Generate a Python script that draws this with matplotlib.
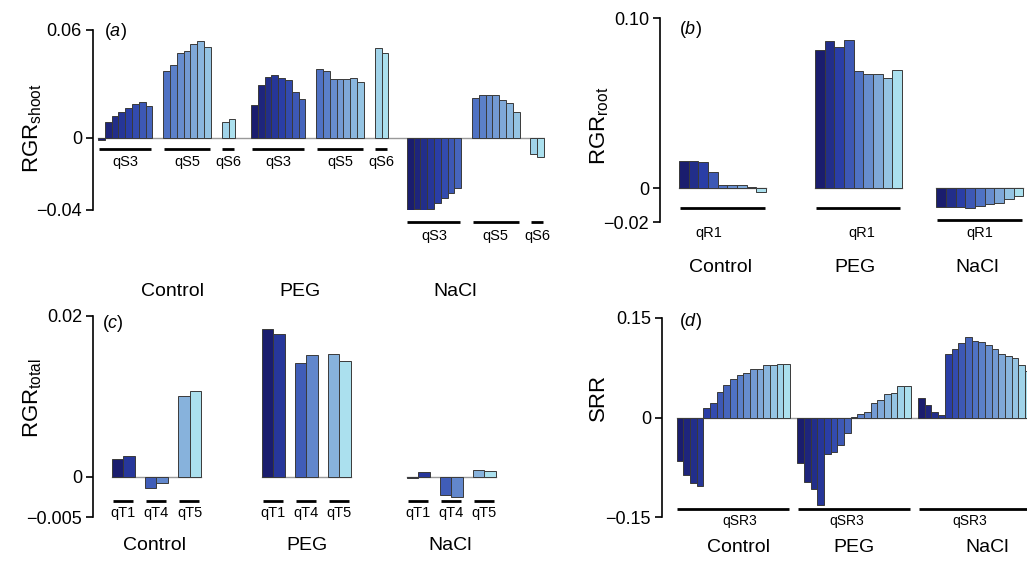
import numpy as np
import matplotlib
matplotlib.use("Agg")
import matplotlib.pyplot as plt
from matplotlib.colors import LinearSegmentedColormap
from matplotlib.transforms import blended_transform_factory

plt.rcParams['font.family'] = ['Liberation Sans', 'DejaVu Sans']
plt.rcParams['mathtext.fontset'] = 'custom'
plt.rcParams['mathtext.rm'] = 'Liberation Sans'
plt.rcParams['mathtext.it'] = 'Liberation Sans:italic'

W, H = 1027, 565

treatments = ['Control', 'PEG', 'NaCl']

# (a) RGR shoot -- loci qS3, qS5, qS6
shoot_loci = ['qS3', 'qS5', 'qS6']
shoot_control = [[-0.0013, 0.0088, 0.0122, 0.0144, 0.0165, 0.0190, 0.0200, 0.0180],
                 [0.0374, 0.0408, 0.0473, 0.0481, 0.0524, 0.0537, 0.0505],
                 [0.0088, 0.0107]]
shoot_peg = [[0.0183, 0.0295, 0.0340, 0.0350, 0.0331, 0.0324, 0.0256, 0.0219],
             [0.0383, 0.0370, 0.0327, 0.0327, 0.0327, 0.0333, 0.0312],
             [0.0499, 0.0473]]
shoot_nacl = [[-0.0411, -0.0393, -0.0400, -0.0393, -0.0363, -0.0331, -0.0303, -0.0280],
              [0.0220, 0.0240, 0.0240, 0.0240, 0.0211, 0.0192, 0.0142],
              [-0.0090, -0.0105]]

# (b) RGR root -- locus qR1
root_loci = ['qR1']
root_control = [[0.0161, 0.0161, 0.0155, 0.0096, 0.0020, 0.0020, 0.0020, 0.0005, -0.0025]]
root_peg = [[0.0814, 0.0867, 0.0827, 0.0873, 0.0690, 0.0670, 0.0670, 0.0647, 0.0696]]
root_nacl = [[-0.0110, -0.0110, -0.0110, -0.0120, -0.0104, -0.0094, -0.0088, -0.0065, -0.0049]]

# (c) RGR total -- loci qT1, qT4, qT5
total_loci = ['qT1', 'qT4', 'qT5']
total_control = [[0.0022, 0.0026], [-0.00145, -0.00075], [0.0100, 0.0107]]
total_peg = [[0.0184, 0.0177], [0.0142, 0.0152], [0.0153, 0.0144]]
total_nacl = [[-0.0001, 0.0006], [-0.0023, -0.0025], [0.0009, 0.0007]]

# (d) SRR -- locus qSR3
srr_loci = ['qSR3']
srr_control = [[-0.0650, -0.0865, -0.0980, -0.1030, 0.0145, 0.0225, 0.0385, 0.0495, 0.0575,
                0.0635, 0.0670, 0.0735, 0.0735, 0.0785, 0.0785, 0.0810, 0.0810]]
srr_peg = [[-0.0690, -0.0965, -0.1080, -0.1315, -0.0555, -0.0525, -0.0415, -0.0240, 0.0015,
            0.0050, 0.0085, 0.0225, 0.0260, 0.0350, 0.0370, 0.0475, 0.0475]]
srr_nacl = [[0.0295, 0.0195, 0.0085, 0.0035, 0.0960, 0.1035, 0.1125, 0.1210, 0.1160,
             0.1135, 0.1100, 0.1035, 0.0960, 0.0920, 0.0900, 0.0785, 0.0700]]

blues = LinearSegmentedColormap.from_list(
    'blues', ['#1a1d6e', '#2a3ea6', '#4f72c4', '#7ea7d8', '#abe0ee'])


def fy(py):
    return 1 - py / H


def draw_treatment(ax, values, start, gap):
    xs, spans = [], []
    x = start
    for vals in values:
        n = len(vals)
        xs.append(x + np.arange(n) + 0.5)
        spans.append((x, x + n))
        x += n + gap
    flat_x = np.concatenate(xs)
    flat_v = np.concatenate([np.asarray(v, float) for v in values])
    colors = blues(np.linspace(0, 1, len(flat_v)))
    ax.bar(flat_x, flat_v, width=1.0, color=colors, edgecolor='#3a3a3a',
           linewidth=0.7, zorder=3)
    return spans


def make_panel(box, unit, first_bar, ylim, yticks, yticklabels):
    left, top, right, bottom = box
    ax = fig.add_axes([left / W, 1 - bottom / H, (right - left) / W, (bottom - top) / H])
    ax.set_xlim((left - first_bar) / unit, (right - first_bar) / unit)
    ax.set_ylim(*ylim)
    for s in ['top', 'right', 'bottom']:
        ax.spines[s].set_visible(False)
    ax.spines['left'].set_linewidth(1.2)
    ax.set_xticks([])
    ax.set_yticks(yticks)
    ax.set_yticklabels(yticklabels)
    ax.tick_params(axis='y', direction='out', length=5, width=1.2, labelsize=13, pad=3)
    ax.patch.set_alpha(0)
    return ax


def annotate_loci(ax, spans, loci, line_py, label_py, offsets=None, size=10.5):
    tr = blended_transform_factory(ax.transData, fig.transFigure)
    for i, ((x0, x1), name) in enumerate(zip(spans, loci)):
        ax.plot([x0 + 0.08, x1 - 0.15], [fy(line_py)] * 2, color='black', lw=2,
                transform=tr, clip_on=False, solid_capstyle='butt')
        dx = offsets[i] if offsets is not None else 0
        ax.text((x0 + x1) / 2 + dx, fy(label_py), name, transform=tr, ha='center',
                va='center', fontsize=size, clip_on=False)


def panel_text(label, ylabel, label_xy, ylabel_xy, treat_x, treat_y):
    fig.text(label_xy[0] / W, fy(label_xy[1]), label, fontsize=13, ha='center', va='center')
    fig.text(ylabel_xy[0] / W, fy(ylabel_xy[1]), ylabel, fontsize=16, rotation=90,
             ha='center', va='center')
    for name, tx in zip(treatments, treat_x):
        fig.text(tx / W, fy(treat_y), name, fontsize=14, ha='center', va='center')


fig = plt.figure(figsize=(W / 100, H / 100), dpi=100)

# ---- (a)
ax = make_panel((93, 30, 545, 210), 6.8, 98, (-0.04, 0.06), [-0.04, 0, 0.06],
                ['\u22120.04', '0', '0.06'])
starts = [0, 22.5, 45.4]
all_spans = []
for vals, st in zip([shoot_control, shoot_peg, shoot_nacl], starts):
    all_spans.append(draw_treatment(ax, vals, st, 1.6))
ax.plot([all_spans[0][0][0], all_spans[-1][-1][1]], [0, 0], color='#999999', lw=1, zorder=2)
annotate_loci(ax, all_spans[0], shoot_loci, 149, 162)
annotate_loci(ax, all_spans[1], shoot_loci, 149, 162)
annotate_loci(ax, all_spans[2], shoot_loci, 222, 236)
panel_text('($\\mathit{a}$)', 'RGR$_{\\mathrm{shoot}}$', (115, 32), (33, 128),
           [173, 300, 455], 292)

# ---- (b)
ax = make_panel((660, 18, 1025, 222), 9.67, 679, (-0.02, 0.10), [-0.02, 0, 0.10],
                ['\u22120.02', '0', '0.10'])
starts = [0, 14.05, 26.6]
offs = [[-1.4], [0.35], [0.0]]
line_y = [208, 208, 220]
for vals, st, off, ly in zip([root_control, root_peg, root_nacl], starts, offs, line_y):
    spans = draw_treatment(ax, vals, st, 0)
    ax.plot([spans[0][0], spans[-1][1]], [0, 0], color='#999999', lw=1, zorder=2)
    annotate_loci(ax, spans, root_loci, ly, 233, offsets=off)
panel_text('($\\mathit{b}$)', 'RGR$_{\\mathrm{root}}$', (690, 30), (600, 126),
           [720, 855, 977], 267)

# ---- (c)
ax = make_panel((93, 316, 500, 517), 11.3, 112, (-0.005, 0.02), [-0.005, 0, 0.02],
                ['\u22120.005', '0', '0.02'])
starts = [0, 13.27, 26.1]
for vals, st in zip([total_control, total_peg, total_nacl], starts):
    spans = draw_treatment(ax, vals, st, 0.93)
    ax.plot([spans[0][0], spans[-1][1]], [0, 0], color='#999999', lw=1, zorder=2)
    annotate_loci(ax, spans, total_loci, 501, 513)
panel_text('($\\mathit{c}$)', 'RGR$_{\\mathrm{total}}$', (113, 323), (33, 398),
           [155, 307, 450], 546)

# ---- (d)
ax = make_panel((662, 318, 1034, 517), 6.67, 676.7, (-0.15, 0.15), [-0.15, 0, 0.15],
                ['\u22120.15', '0', '0.15'])
starts = [0, 18.1, 36.2]
offs = [[1.0], [-1.1], [-0.7]]
all_spans = []
for vals, st, off in zip([srr_control, srr_peg, srr_nacl], starts, offs):
    spans = draw_treatment(ax, vals, st, 0)
    all_spans.append(spans)
    annotate_loci(ax, spans, srr_loci, 509, 521, offsets=off, size=10)
ax.plot([all_spans[0][0][0], all_spans[-1][-1][1]], [0, 0], color='#999999', lw=1, zorder=2)
panel_text('($\\mathit{d}$)', 'SRR', (690, 322), (598, 397),
           [739, 854, 987], 548)

fig.savefig('out.png', dpi=100)
